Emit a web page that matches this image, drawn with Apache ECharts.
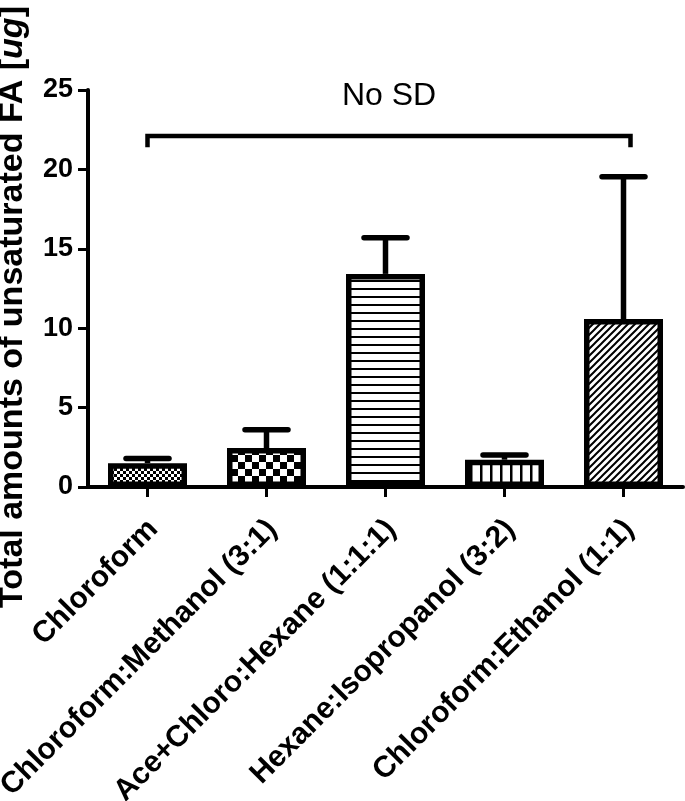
<!DOCTYPE html>
<html>
<head>
<meta charset="utf-8">
<script src="https://cdn.jsdelivr.net/npm/echarts@6/dist/echarts.min.js"></script>
<style>
html,body{margin:0;padding:0;background:#fff;}
#chart{width:685px;height:801px;}
</style>
</head>
<body>
<div id="chart"></div>
<script>
// ---- data ----
const categories = ['Chloroform', 'Chloroform:Methanol (3:1)', 'Ace+Chloro:Hexane (1:1:1)', 'Hexane:Isopropanol (3:2)', 'Chloroform:Ethanol (1:1)'];
const means = [1.5, 2.45, 13.42, 1.72, 10.58];
const upperSD = [1.8, 3.61, 15.7, 2.01, 19.54];
const yTicks = [0, 5, 10, 15, 20, 25];
const bracketFrom = 0;   // category index
const bracketTo = 4;     // category index
const bracketLevel = 22.1;
const bracketDrop = 21.4;
const bracketLabelLevel = 24.6;
const bracketLabel = 'No SD';
const yTitle = 'Total amounts of unsaturated FA [';
const yTitleItalic = 'ug';

// ---- patterns ----
function mk(w, h, draw) {
  const c = document.createElement('canvas');
  c.width = w; c.height = h;
  const g = c.getContext('2d');
  g.fillStyle = '#fff'; g.fillRect(0, 0, w, h);
  g.fillStyle = '#000'; g.strokeStyle = '#000';
  draw(g, w, h);
  return { image: c, repeat: 'repeat' };
}
const patFineCheck = mk(6, 6, g => { g.fillRect(0, 0, 3, 3); g.fillRect(3, 3, 3, 3); });
const patCoarseCheck = mk(14, 14, g => { g.fillRect(0, 0, 7, 7); g.fillRect(7, 7, 7, 7); });
const patHoriz = mk(8, 8, g => { g.fillRect(0, 0, 8, 2); });
const patVert = mk(10, 10, g => { g.fillRect(0, 0, 2.5, 10); });
const patDiag = mk(7, 7, g => {
  g.lineWidth = 2;
  g.beginPath();
  g.moveTo(-1, 8); g.lineTo(8, -1);
  g.moveTo(-8, 8); g.lineTo(1, -1);
  g.moveTo(6, 8); g.lineTo(15, -1);
  g.stroke();
});
const patterns = [patFineCheck, patCoarseCheck, patHoriz, patVert, patDiag];

const FONT = "'Liberation Sans', Arial, Helvetica, sans-serif";

const chart = echarts.init(document.getElementById('chart'), null, { renderer: 'canvas' });

const option = {
  backgroundColor: '#fff',
  animation: false,
  grid: { left: 88, right: 2, top: 90, bottom: 314, containLabel: false, outerBoundsMode: 'none' },
  xAxis: {
    type: 'category',
    data: categories,
    axisLine: { show: true, lineStyle: { color: '#000', width: 4 } },
    axisTick: { show: true, alignWithLabel: true, length: 10, lineStyle: { color: '#000', width: 3 } },
    axisLabel: { rotate: 45, margin: 32, verticalAlign: 'top', lineHeight: 16, color: '#000', fontFamily: FONT, fontWeight: 'bold', fontSize: 30, interval: 0 },
    splitLine: { show: false }
  },
  yAxis: {
    type: 'value',
    min: yTicks[0],
    max: yTicks[yTicks.length - 1],
    interval: yTicks[1] - yTicks[0],
    axisLine: { show: true, lineStyle: { color: '#000', width: 4 } },
    axisTick: { show: true, length: 10, lineStyle: { color: '#000', width: 3 } },
    axisLabel: { margin: 15, color: '#000', fontFamily: FONT, fontWeight: 'bold', fontSize: 27 },
    splitLine: { show: false }
  },
  graphic: [{
    type: 'text',
    x: 13, y: 307,
    rotation: Math.PI / 2,
    style: {
      text: '{b|' + yTitle + '}{i|' + yTitleItalic + '}{b|]}',
      align: 'center',
      verticalAlign: 'middle',
      rich: {
        b: { fontFamily: FONT, fontWeight: 'bold', fontSize: 34, fill: '#000' },
        i: { fontFamily: FONT, fontWeight: 'bold', fontStyle: 'italic', fontSize: 34, fill: '#000' }
      }
    }
  }],
  series: [
    {
      type: 'bar',
      barWidth: 79,
      data: means.map((v, i) => ({
        value: v,
        itemStyle: { color: patterns[i], borderColor: '#000', borderWidth: 5.5 }
      })),
      z: 2
    },
    {
      type: 'custom',
      z: 3,
      data: means.map((v, i) => [i, v, upperSD[i]]),
      renderItem: function (params, api) {
        const i = api.value(0);
        const top = api.coord([i, api.value(1)]);
        const up = api.coord([i, api.value(2)]);
        const capHalf = 21.5;
        const st = { stroke: '#000', lineWidth: 5.5 };
        return {
          type: 'group',
          children: [
            { type: 'line', shape: { x1: top[0], y1: top[1], x2: up[0], y2: up[1] }, style: st },
            { type: 'line', shape: { x1: up[0] - capHalf, y1: up[1], x2: up[0] + capHalf, y2: up[1] }, style: Object.assign({ lineCap: 'round' }, st) }
          ]
        };
      }
    },
    {
      type: 'custom',
      z: 3,
      data: [[bracketFrom, bracketTo, bracketLevel, bracketDrop, bracketLabelLevel]],
      renderItem: function (params, api) {
        const a = api.coord([api.value(0), api.value(2)]);
        const b = api.coord([api.value(1), api.value(2)]);
        const dropY = api.coord([api.value(0), api.value(3)])[1];
        const labY = api.coord([api.value(0), api.value(4)])[1];
        const x1 = a[0], x2 = b[0] + 7, y = a[1];
        const st = { stroke: '#000', lineWidth: 4.5, fill: null };
        return {
          type: 'group',
          children: [
            { type: 'polyline', shape: { points: [[x1, dropY], [x1, y], [x2, y], [x2, dropY]] }, style: st },
            { type: 'text', x: (x1 + x2) / 2, y: labY, style: { text: bracketLabel, fontFamily: FONT, fontSize: 32, fill: '#000', align: 'center', verticalAlign: 'middle' } }
          ]
        };
      }
    }
  ]
};
chart.setOption(option);
</script>
</body>
</html>
